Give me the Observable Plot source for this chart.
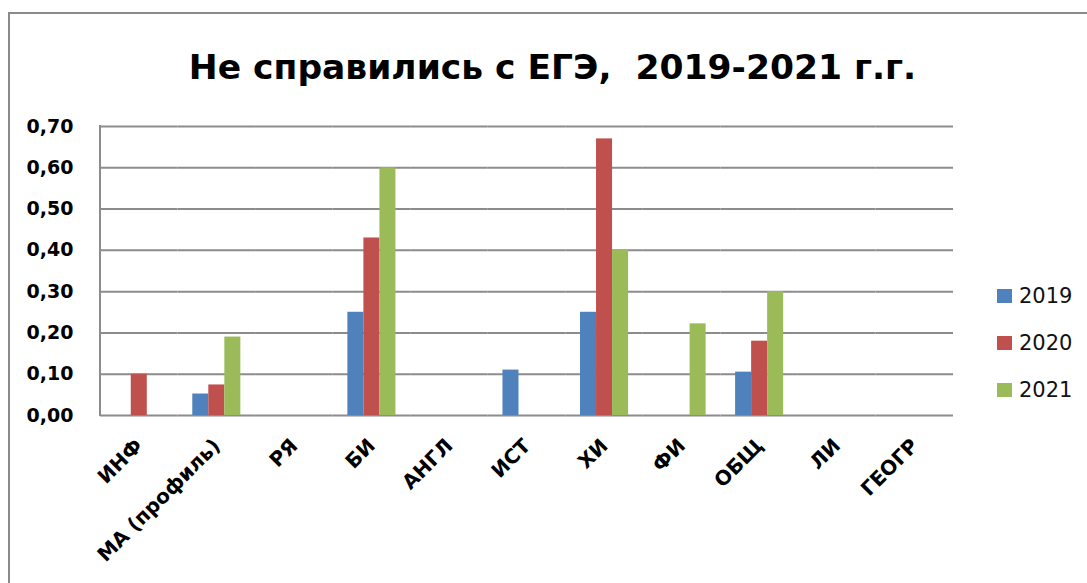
<!DOCTYPE html>
<html>
<head>
<meta charset="utf-8">
<script src="https://cdn.jsdelivr.net/npm/d3@7"></script>
<script src="https://cdn.jsdelivr.net/npm/@observablehq/plot@0.6"></script>
<style>
  html, body { margin: 0; padding: 0; background: #fff; }
  #wrap { position: relative; width: 1087px; height: 583px; overflow: hidden; font-family: "DejaVu Sans", sans-serif; }
  #frame { position: absolute; left: 8px; top: 12px; width: 1200px; height: 700px; border: 2px solid #8a8a8a; box-sizing: border-box; }
  #title { position: absolute; left: 0; top: 50px; width: 1105px; text-align: center; font-size: 34.5px; line-height: 34px; font-weight: bold; white-space: pre; color: #000; }
  #chart { position: absolute; left: 0; top: 0; }
  .leg { position: absolute; left: 997px; display: flex; align-items: center; font-size: 21px; color: #111; }
  .leg span.sw { display: inline-block; width: 15px; height: 14px; margin-right: 7px; }
</style>
</head>
<body>
<div id="wrap">
  <div id="frame"></div>
  <div id="title"></div>
  <div id="chart"></div>
</div>
<script>
const titleText = "Не справились с ЕГЭ,  2019-2021 г.г.";
const categories = ["ИНФ", "МА (профиль)", "РЯ", "БИ", "АНГЛ", "ИСТ", "ХИ", "ФИ", "ОБЩ", "ЛИ", "ГЕОГР"];
const years = ["2019", "2020", "2021"];
const v2019 = [0, 0.052, 0, 0.25, 0, 0.11, 0.25, 0, 0.105, 0, 0];
const v2020 = [0.10, 0.074, 0, 0.43, 0, 0, 0.67, 0, 0.18, 0, 0];
const v2021 = [0, 0.19, 0, 0.60, 0, 0, 0.40, 0.222, 0.30, 0, 0];
const colors = ["#4F81BD", "#C0504D", "#9BBB59"];
const yTicks = [0, 0.1, 0.2, 0.3, 0.4, 0.5, 0.6, 0.7];

const series = [v2019, v2020, v2021];
const data = [];
categories.forEach((c, i) => {
  years.forEach((y, j) => {
    data.push({category: c, year: y, value: series[j][i]});
  });
});

document.getElementById("title").textContent = titleText;

const plot = Plot.plot({
  width: 960,
  height: 583,
  marginLeft: 100,
  marginRight: 7,
  marginTop: 126,
  marginBottom: 168,
  style: {fontFamily: "DejaVu Sans", fontWeight: "bold", fontSize: "18px", background: "transparent", color: "#000", overflow: "visible"},
  fx: {domain: categories, padding: 0, round: false, label: null},
  x: {domain: years, paddingInner: 0, paddingOuter: 0.92, round: false, axis: null},
  y: {domain: [0, 0.7], ticks: yTicks, label: null},
  color: {domain: years, range: colors},
  marks: [
    Plot.gridY(yTicks, {stroke: "#8c8c8c", strokeOpacity: 1, strokeWidth: 2}),
    Plot.barY(data, {fx: "category", x: "year", y: "value", fill: "year"}),
    Plot.axisY(yTicks, {tickSize: 0, tickPadding: 27, tickFormat: d => d.toFixed(2).replace(".", ","), fontSize: 19, fontWeight: "bold", label: null}),
    Plot.axisFx({anchor: "bottom", tickRotate: -45, tickSize: 0, tickPadding: 27, fontSize: 20, fontWeight: "bold", label: null})
  ]
});

// left axis line, positioned with the plot's own y scale
const ys = plot.scale("y");
d3.select(plot).append("line")
  .attr("x1", 100).attr("x2", 100)
  .attr("y1", ys.apply(0) + 1).attr("y2", ys.apply(0.7) - 1)
  .attr("stroke", "#8c8c8c").attr("stroke-width", 2);

document.getElementById("chart").appendChild(plot);

// legend
const wrap = document.getElementById("wrap");
years.forEach((y, i) => {
  const d = document.createElement("div");
  d.className = "leg";
  d.style.top = (284 + i * 47) + "px";
  d.innerHTML = `<span class="sw" style="background:${colors[i]}"></span><span>${y}</span>`;
  wrap.appendChild(d);
});
</script>
</body>
</html>
